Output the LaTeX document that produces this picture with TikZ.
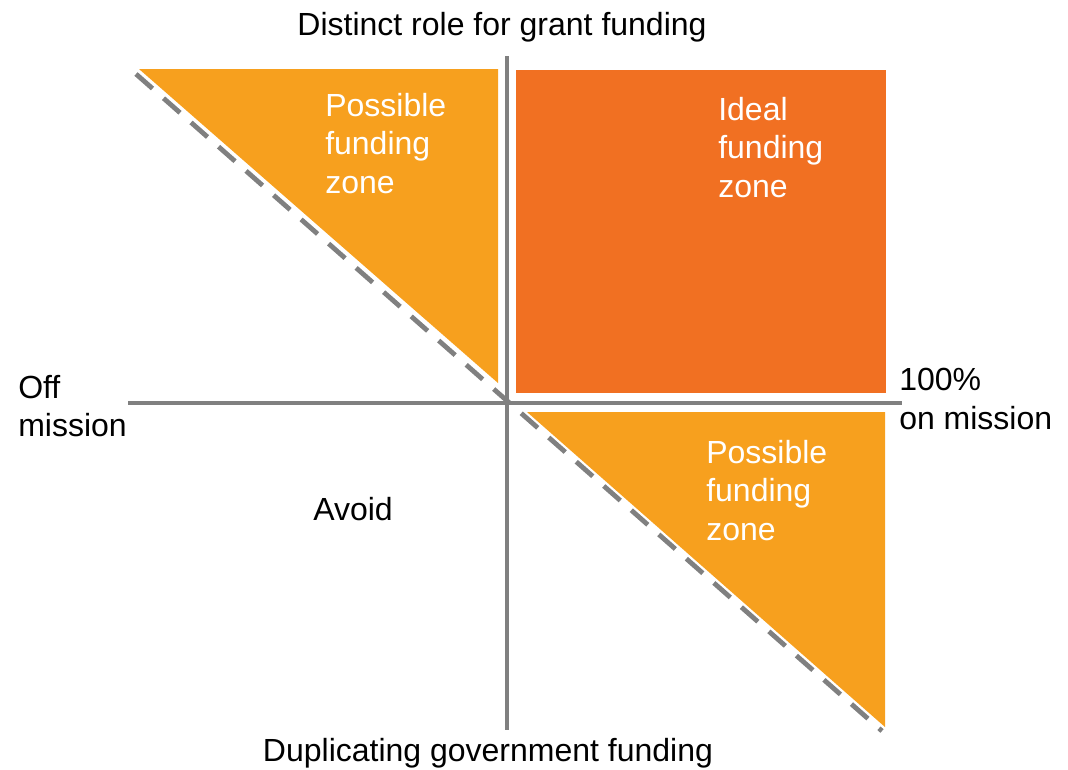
\documentclass[tikz,border=0pt]{standalone}
\usepackage{fontspec}
\setmainfont{Liberation Sans}
\definecolor{lightor}{RGB}{247,160,30}
\definecolor{darkor}{RGB}{241,112,34}
\definecolor{axisgray}{RGB}{128,128,128}
\begin{document}
\begin{tikzpicture}[x=0.75pt,y=-0.75pt,
  axis/.style={draw=axisgray,line width=3.3pt},
  diag/.style={draw=axisgray,line width=3.6pt,dash pattern=on 16.5pt off 11pt},
  lbl/.style={font=\fontsize{24}{28.8}\selectfont,inner sep=0pt,align=left},
  zonelbl/.style={lbl,text=white}]
\useasboundingbox (0,0) rectangle (1068,769);
% zones
\fill[lightor] (139,69) -- (498,69) -- (498,383) -- cycle;
\fill[darkor] (516,70) rectangle (886,393);
\fill[lightor] (527,412) -- (885,412) -- (885,727) -- cycle;
% axes
\coordinate (ytop) at (507,56);
\coordinate (ybot) at (507,730);
\coordinate (xleft) at (128,403);
\coordinate (xright) at (902,403);
\coordinate (dstart) at (136,74);
\coordinate (dend) at (882,731);
\draw[axis] (ytop) -- (ybot);
\draw[axis] (xleft) -- (xright);
\draw[diag] (dstart) -- (dend);
% labels
\node[lbl,anchor=north] (top) at (502,12) {Distinct role for grant funding};
\node[lbl,anchor=north] (bottom) at (488,738) {Duplicating government funding};
\node[lbl,anchor=north west] (off) at (18,375) {Off\\mission};
\node[lbl,anchor=north west] (on) at (899,368) {100\%\\on mission};
\node[lbl,anchor=north] (avoid) at (353,497) {Avoid};
\node[zonelbl,anchor=north west] (possA) at (325,93) {Possible\\funding\\zone};
\node[zonelbl,anchor=north west] (ideal) at (718,97) {Ideal\\funding\\zone};
\node[zonelbl,anchor=north west] (possB) at (706,440) {Possible\\funding\\zone};
\end{tikzpicture}
\end{document}
